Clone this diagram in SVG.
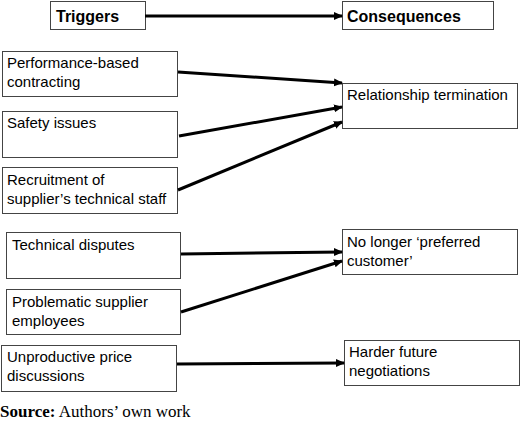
<svg xmlns="http://www.w3.org/2000/svg" width="520" height="421" viewBox="0 0 520 421">
<defs>
<marker id="ah" markerWidth="10" markerHeight="10" refX="8" refY="5" orient="auto" markerUnits="userSpaceOnUse">
<path d="M0,1 L9,5 L0,9 Z" fill="#000"/>
</marker>
<style>
.box{fill:#fff;stroke:#444;stroke-width:1}
.t{font-family:"Liberation Sans",Arial,sans-serif;font-size:15px;fill:#000}
.h{font-family:"Liberation Sans",Arial,sans-serif;font-size:16px;font-weight:bold;fill:#000}
.c{stroke:#000;stroke-width:3;fill:none;marker-end:url(#ah)}
.src{font-family:"Liberation Serif","Times New Roman",serif;font-size:17px;fill:#000}
</style>
</defs>
<rect width="520" height="421" fill="#fff"/>
<g id="triggers"><rect class="box" x="50.5" y="1.5" width="95" height="28"/><text class="h" x="56" y="22">Triggers</text></g>
<g id="consequences"><rect class="box" x="342.5" y="1.5" width="151" height="28"/><text class="h" x="347" y="22">Consequences</text></g>
<g id="performance"><rect class="box" x="2.5" y="51.5" width="175" height="45"/><text class="t" x="7" y="68">Performance-based</text><text class="t" x="7" y="87">contracting</text></g>
<g id="safety"><rect class="box" x="2.5" y="111.5" width="175" height="46"/><text class="t" x="7" y="128">Safety issues</text></g>
<g id="recruitment"><rect class="box" x="2.5" y="167.5" width="175" height="46"/><text class="t" x="7" y="185">Recruitment of</text><text class="t" x="7" y="204">supplier’s technical staff</text></g>
<g id="termination"><rect class="box" x="342.5" y="83.5" width="175" height="45"/><text class="t" x="347" y="100">Relationship termination</text></g>
<g id="technical"><rect class="box" x="6.5" y="232.5" width="174" height="46"/><text class="t" x="12" y="250">Technical disputes</text></g>
<g id="problematic"><rect class="box" x="6.5" y="289.5" width="174" height="45"/><text class="t" x="12" y="307">Problematic supplier</text><text class="t" x="12" y="326">employees</text></g>
<g id="unproductive"><rect class="box" x="1.5" y="345.5" width="175" height="46"/><text class="t" x="7" y="362">Unproductive price</text><text class="t" x="7" y="381">discussions</text></g>
<g id="preferred"><rect class="box" x="342.5" y="229.5" width="175" height="45"/><text class="t" x="347" y="247">No longer ‘preferred</text><text class="t" x="347" y="266">customer’</text></g>
<g id="harder"><rect class="box" x="344.5" y="340.5" width="175" height="45"/><text class="t" x="349" y="357">Harder future</text><text class="t" x="349" y="376">negotiations</text></g>
<g id="connectors">
<line class="c" x1="145" y1="16" x2="342" y2="16"/>
<line class="c" x1="178" y1="72" x2="342" y2="83"/>
<line class="c" x1="179" y1="136" x2="342" y2="107"/>
<line class="c" x1="178" y1="190" x2="342" y2="122"/>
<line class="c" x1="181" y1="254" x2="342" y2="252"/>
<line class="c" x1="181" y1="312" x2="342" y2="261"/>
<line class="c" x1="177" y1="364" x2="344" y2="363"/>
</g>
<text class="src" x="0" y="417"><tspan font-weight="bold">Source:</tspan> Authors’ own work</text>
</svg>
